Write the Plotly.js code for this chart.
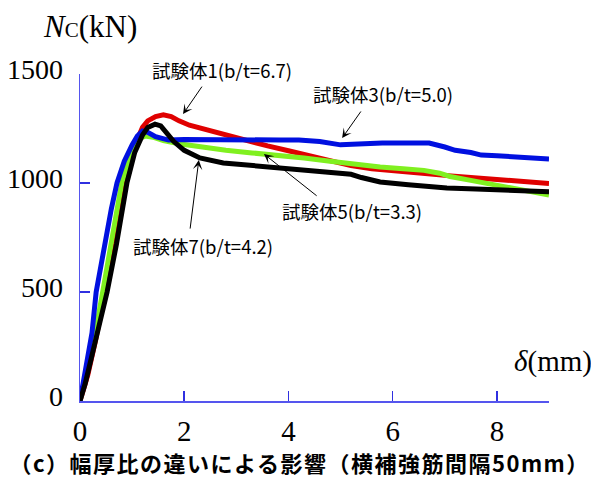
<!DOCTYPE html>
<html><head><meta charset="utf-8">
<script src="https://cdn.plot.ly/plotly-3.0.1.min.js"></script>
<style>html,body{margin:0;padding:0;background:#fff;}</style>
</head><body>
<div id="chart" style="width:591px;height:479px;"></div>
<script>
// 試験体1 (b/t=6.7) red
const redX = [0, 0.15, 0.3, 0.5, 0.7, 0.87, 1.0, 1.1, 1.2, 1.3, 1.45, 1.6, 1.75, 1.9, 2.1, 2.4, 2.8, 3.2, 3.6, 4.0, 4.4, 4.8, 5.2, 5.6, 6.0, 6.5, 7.0, 7.5, 8.0, 8.5, 9.0];
const redY = [0, 120, 280, 520, 760, 1000, 1120, 1200, 1255, 1285, 1305, 1313, 1305, 1285, 1265, 1245, 1220, 1195, 1170, 1148, 1125, 1100, 1080, 1065, 1055, 1045, 1035, 1025, 1015, 1005, 998];
// 試験体3 (b/t=5.0) blue
const blueX = [0, 0.1, 0.23, 0.31, 0.45, 0.6, 0.71, 0.85, 1.0, 1.1, 1.2, 1.3, 1.45, 1.7, 2.0, 2.5, 3.0, 3.5, 3.84, 4.2, 4.6, 5.0, 5.4, 5.8, 6.2, 6.7, 7.0, 7.2, 7.5, 7.7, 8.0, 8.3, 8.6, 9.0];
const blueY = [0, 150, 312, 500, 700, 880, 1000, 1100, 1175, 1215, 1238, 1232, 1212, 1197, 1200, 1198, 1195, 1197, 1197, 1197, 1190, 1175, 1180, 1183, 1183, 1183, 1165, 1150, 1140, 1128, 1125, 1119, 1115, 1110];
// 試験体5 (b/t=3.3) green
const greenX = [0, 0.15, 0.3, 0.45, 0.6, 0.8, 0.95, 1.05, 1.15, 1.25, 1.4, 1.6, 1.9, 2.3, 2.8, 3.3, 3.84, 4.3, 4.8, 5.3, 5.76, 6.2, 6.6, 6.9, 7.1, 7.5, 8.0, 8.3, 8.7, 9.0];
const greenY = [0, 150, 320, 520, 720, 1000, 1120, 1180, 1205, 1215, 1210, 1195, 1180, 1165, 1150, 1138, 1128, 1115, 1100, 1085, 1073, 1065, 1058, 1045, 1030, 1012, 990, 977, 960, 945];
// 試験体7 (b/t=4.2) black
const blackX = [0, 0.1, 0.3, 0.52, 0.7, 0.9, 1.05, 1.2, 1.3, 1.44, 1.55, 1.65, 1.8, 2.0, 2.3, 2.75, 3.2, 3.84, 4.3, 4.8, 5.2, 5.4, 5.76, 6.3, 7.04, 7.6, 8.2, 9.0];
const blackY = [0, 80, 280, 500, 720, 1000, 1140, 1220, 1255, 1270, 1262, 1235, 1190, 1150, 1115, 1092, 1082, 1073, 1063, 1050, 1040, 1025, 1005, 992, 977, 972, 967, 960];

const xTicks = [0, 2, 4, 6, 8];
const yTicks = [0, 500, 1000, 1500];
const labels = ['試験体1(b/t=6.7)', '試験体3(b/t=5.0)', '試験体5(b/t=3.3)', '試験体7(b/t=4.2)'];
const caption = '（c）幅厚比の違いによる影響（横補強筋間隔50mm）';

const lw = 5;
const traces = [
  {x: redX, y: redY, mode: 'lines', line: {color: '#e00000', width: lw}},
  {x: greenX, y: greenY, mode: 'lines', line: {color: '#80f020', width: lw}},
  {x: blueX, y: blueY, mode: 'lines', line: {color: '#0010e0', width: lw}},
  {x: blackX, y: blackY, mode: 'lines', line: {color: '#000000', width: lw}}
];

const serif = 'Liberation Serif, Times New Roman, serif';
const jp = 'Noto Sans CJK JP, sans-serif';
const annFont = {family: jp, size: 18.5, color: '#000'};
function arrow(hx, hy, tx, ty) {
  return {xref: 'x', yref: 'y', axref: 'x', ayref: 'y', x: hx, y: hy, ax: tx, ay: ty,
    text: '', showarrow: true, arrowhead: 3, arrowsize: 1.6, arrowwidth: 1, arrowcolor: '#000', standoff: 0, startstandoff: 0};
}
const layout = {
  width: 591, height: 479,
  margin: {l: 80, r: 42, t: 74, b: 78},
  paper_bgcolor: '#fff', plot_bgcolor: '#fff',
  showlegend: false,
  xaxis: {range: [0, 9], tickvals: xTicks, ticktext: xTicks.map(String), ticks: 'inside', ticklen: 10, tickwidth: 1.5,
    tickcolor: '#3030e0', showline: true, linecolor: '#5555ee', linewidth: 1.5, showgrid: false, zeroline: false,
    tickfont: {family: serif, size: 29, color: '#000'}, ticklabelstandoff: 4},
  yaxis: {range: [0, 1500], tickvals: yTicks, ticktext: yTicks.map(String), ticks: 'inside', ticklen: 10, tickwidth: 1.5,
    tickcolor: '#3030e0', showline: true, linecolor: '#5555ee', linewidth: 1.5, showgrid: false, zeroline: false,
    tickfont: {family: serif, size: 28, color: '#000'}, ticklabelstandoff: 10, ticklabelshift: -5},
  annotations: [
    {xref: 'paper', yref: 'paper', x: -0.083, y: 1.144, xanchor: 'left', yanchor: 'middle', showarrow: false,
      text: '<i>N</i><span style="font-size:21px">C</span>(kN)', font: {family: serif, size: 31, color: '#000'}},
    {xref: 'paper', yref: 'paper', x: 0.921, y: 0.122, xanchor: 'left', yanchor: 'middle', showarrow: false,
      text: '<i>δ</i>(mm)', font: {family: serif, size: 29, color: '#000'}},
    {xref: 'paper', yref: 'paper', x: 0.467, y: -0.186, xanchor: 'center', yanchor: 'middle', showarrow: false,
      text: '<b>' + caption + '</b>', font: {family: jp, size: 22, color: '#000'}},
    {xref: 'paper', yref: 'paper', x: 0.303, y: 1.012, xanchor: 'center', yanchor: 'middle', showarrow: false, text: labels[0], font: annFont},
    {xref: 'paper', yref: 'paper', x: 0.646, y: 0.939, xanchor: 'center', yanchor: 'middle', showarrow: false, text: labels[1], font: annFont},
    {xref: 'paper', yref: 'paper', x: 0.580, y: 0.581, xanchor: 'center', yanchor: 'middle', showarrow: false, text: labels[2], font: annFont},
    {xref: 'paper', yref: 'paper', x: 0.262, y: 0.474, xanchor: 'center', yanchor: 'middle', showarrow: false, text: labels[3], font: annFont},
    arrow(1.977, 1316, 2.36, 1449),
    arrow(5.03, 1206, 5.41, 1335),
    arrow(3.53, 1133, 4.57, 936),
    arrow(2.28, 1105, 2.11, 784)
  ]
};
Plotly.newPlot('chart', traces, layout, {displayModeBar: false, staticPlot: true}).then(function (gd) {
  gd.querySelectorAll('.annotation-text').forEach(function (t) {
    if (t.textContent.indexOf('幅厚比') >= 0) {
      t.style.letterSpacing = '1.5px';
    }
  });
});
</script>
</body></html>
